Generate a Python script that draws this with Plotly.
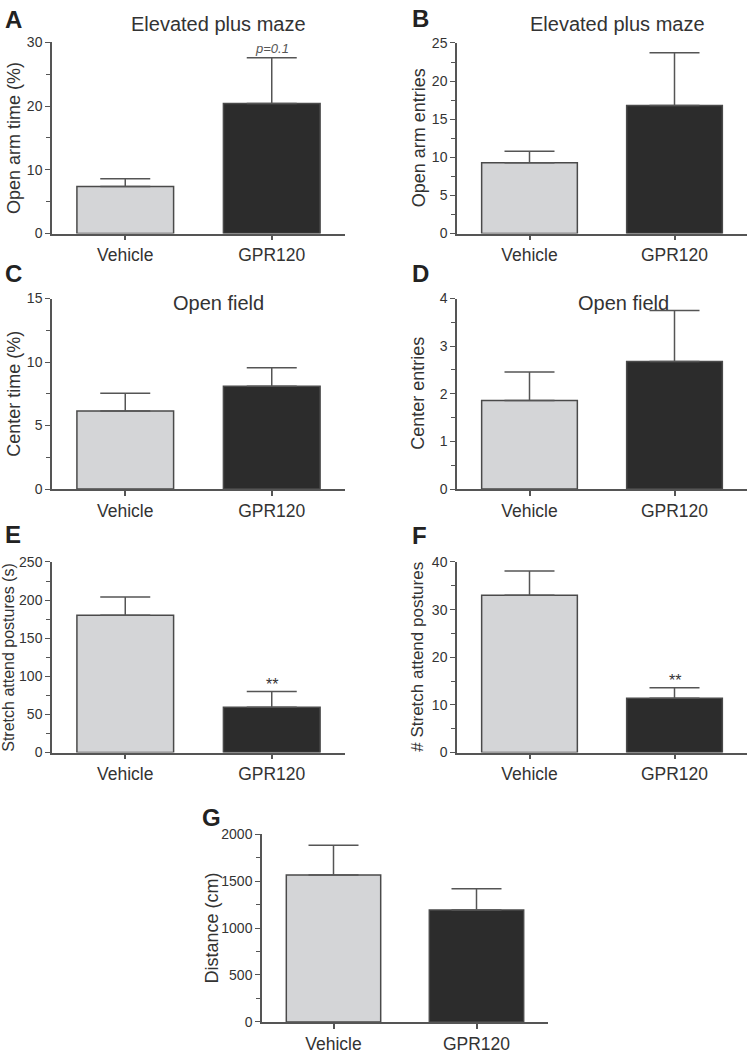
import plotly.graph_objects as go

# ---------------- data ----------------
categories = ["Vehicle", "GPR120"]

open_arm_time_mean = [7.4, 20.4]
open_arm_time_sem = [1.2, 7.2]

open_arm_entries_mean = [9.3, 16.8]
open_arm_entries_sem = [1.5, 6.9]

center_time_mean = [6.15, 8.1]
center_time_sem = [1.4, 1.45]

center_entries_mean = [1.86, 2.68]
center_entries_sem = [0.6, 1.07]

stretch_time_mean = [180.0, 59.5]
stretch_time_sem = [24.0, 20.5]

stretch_count_mean = [33.0, 11.4]
stretch_count_sem = [5.1, 2.2]

distance_mean = [1566, 1194]
distance_sem = [318, 225]

panel_letters = ["A", "B", "C", "D", "E", "F", "G"]
panel_titles = ["Elevated plus maze", "Elevated plus maze", "Open field", "Open field", "", "", ""]
y_titles = ["Open arm time (%)", "Open arm entries", "Center time (%)", "Center entries",
            "Stretch attend postures (s)", "# Stretch attend postures", "Distance (cm)"]
y_max = [30, 25, 15, 4, 250, 40, 2000]
y_major = [10, 5, 5, 1, 50, 10, 500]
significance = ["p=0.1", "", "", "", "**", "**", ""]

means = [open_arm_time_mean, open_arm_entries_mean, center_time_mean, center_entries_mean,
         stretch_time_mean, stretch_count_mean, distance_mean]
sems = [open_arm_time_sem, open_arm_entries_sem, center_time_sem, center_entries_sem,
        stretch_time_sem, stretch_count_sem, distance_sem]

# ---------------- layout geometry (pixels) ----------------
W, H = 750, 1055
# (x0, x1, ytop, ybottom) of each plot area
boxes = [(52, 345, 35, 229), (457, 747, 35.5, 229),
         (52, 345, 295, 488.5), (457, 747, 295, 488.5),
         (52, 345, 562.5, 756), (457, 747, 562.5, 756),
         (262, 548, 839, 1029.5)]
ytitle_x = [14, 419, 14, 418, 8.5, 417.5, 212.5]
ytitle_size = [18, 18, 18, 18, 16, 17, 18]
title_pos = [(218, 16), (617, 16), (218, 300), (623, 300), None, None, None]
letter_pos = [(3, 11.5), (410, 10.5), (3, 270), (410, 270), (3, 535), (410, 535.5), (200, 821.5)]

FONT = "Liberation Sans, Arial, Helvetica, sans-serif"
TXT = "#333333"
AX = "#555555"
bar_fill = ["#d4d5d7", "#2c2c2c"]
bar_edge = "#4a4a4a"

def px_x(v):
    return v / W

def px_y(v):
    return 1 - v / H

fig = go.Figure()
annotations = []

for i in range(7):
    n = "" if i == 0 else str(i + 1)
    xa, ya = "x" + n, "y" + n
    x0, x1, yt, yb = boxes[i]
    fig.add_trace(go.Bar(
        x=categories, y=means[i], xaxis=xa, yaxis=ya, width=0.66,
        marker=dict(color=bar_fill, line=dict(color=bar_edge, width=1.5)),
        error_y=dict(type="data", symmetric=False, array=sems[i], arrayminus=[0, 0],
                     color=AX, thickness=1.5, width=25),
        showlegend=False, hoverinfo="skip",
    ))
    fig.update_layout(**{
        "xaxis" + n: dict(domain=[px_x(x0), px_x(x1)], anchor=ya, range=[-0.5, 1.5],
                          showline=True, linecolor=AX, linewidth=1.5, ticks="outside",
                          ticklen=5, tickwidth=1.5, tickcolor=AX, showgrid=False, zeroline=False,
                          tickfont=dict(family=FONT, size=17.5, color=TXT), fixedrange=True),
        "yaxis" + n: dict(domain=[px_y(yb), px_y(yt)], anchor=xa, range=[0, y_max[i]],
                          dtick=y_major[i], tick0=0, showline=True, linecolor=AX, linewidth=1.5,
                          ticks="outside", ticklen=5, tickwidth=1.2, tickcolor=AX,
                          minor=dict(ticks="outside", dtick=y_major[i] / 2, ticklen=4,
                                     tickwidth=1.2, tickcolor=AX, showgrid=False),
                          showgrid=False, zeroline=False,
                          tickfont=dict(family=FONT, size=14, color=TXT), fixedrange=True),
    })
    # y axis title
    annotations.append(dict(text=y_titles[i], textangle=-90, xref="paper", yref="paper",
                            x=px_x(ytitle_x[i]), y=px_y((yt + yb) / 2), xanchor="center",
                            yanchor="middle", showarrow=False,
                            font=dict(family=FONT, size=ytitle_size[i], color=TXT)))
    # panel title
    if panel_titles[i]:
        tx, ty = title_pos[i]
        annotations.append(dict(text=panel_titles[i], xref="paper", yref="paper",
                                x=px_x(tx), y=px_y(ty), xanchor="center", yanchor="middle",
                                showarrow=False, font=dict(family=FONT, size=20, color=TXT)))
    # panel letter
    lx, ly = letter_pos[i]
    annotations.append(dict(text="<b>" + panel_letters[i] + "</b>", xref="paper", yref="paper",
                            x=px_x(lx), y=px_y(ly), xanchor="left", yanchor="middle",
                            showarrow=False, font=dict(family=FONT, size=24, color="#222222")))
    # significance mark over GPR120
    if significance[i]:
        top = means[i][1] + sems[i][1]
        if significance[i].startswith("p"):
            annotations.append(dict(text="<i>" + significance[i] + "</i>", xref=xa, yref=ya,
                                    x=categories[1], y=top, xanchor="center", yanchor="bottom",
                                    yshift=0, showarrow=False,
                                    font=dict(family=FONT, size=13, color="#555555")))
        else:
            annotations.append(dict(text=significance[i], xref=xa, yref=ya,
                                    x=categories[1], y=top, xanchor="center", yanchor="bottom",
                                    yshift=-3, showarrow=False,
                                    font=dict(family=FONT, size=16, color="#333333")))

fig.update_layout(width=W, height=H, margin=dict(l=0, r=0, t=0, b=0),
                  paper_bgcolor="white", plot_bgcolor="white", bargap=0.3,
                  annotations=annotations, font=dict(family=FONT, color=TXT))

fig.write_html("out.html", config={"displayModeBar": False},
               post_script="document.body.style.margin='0';document.body.style.padding='0';")
